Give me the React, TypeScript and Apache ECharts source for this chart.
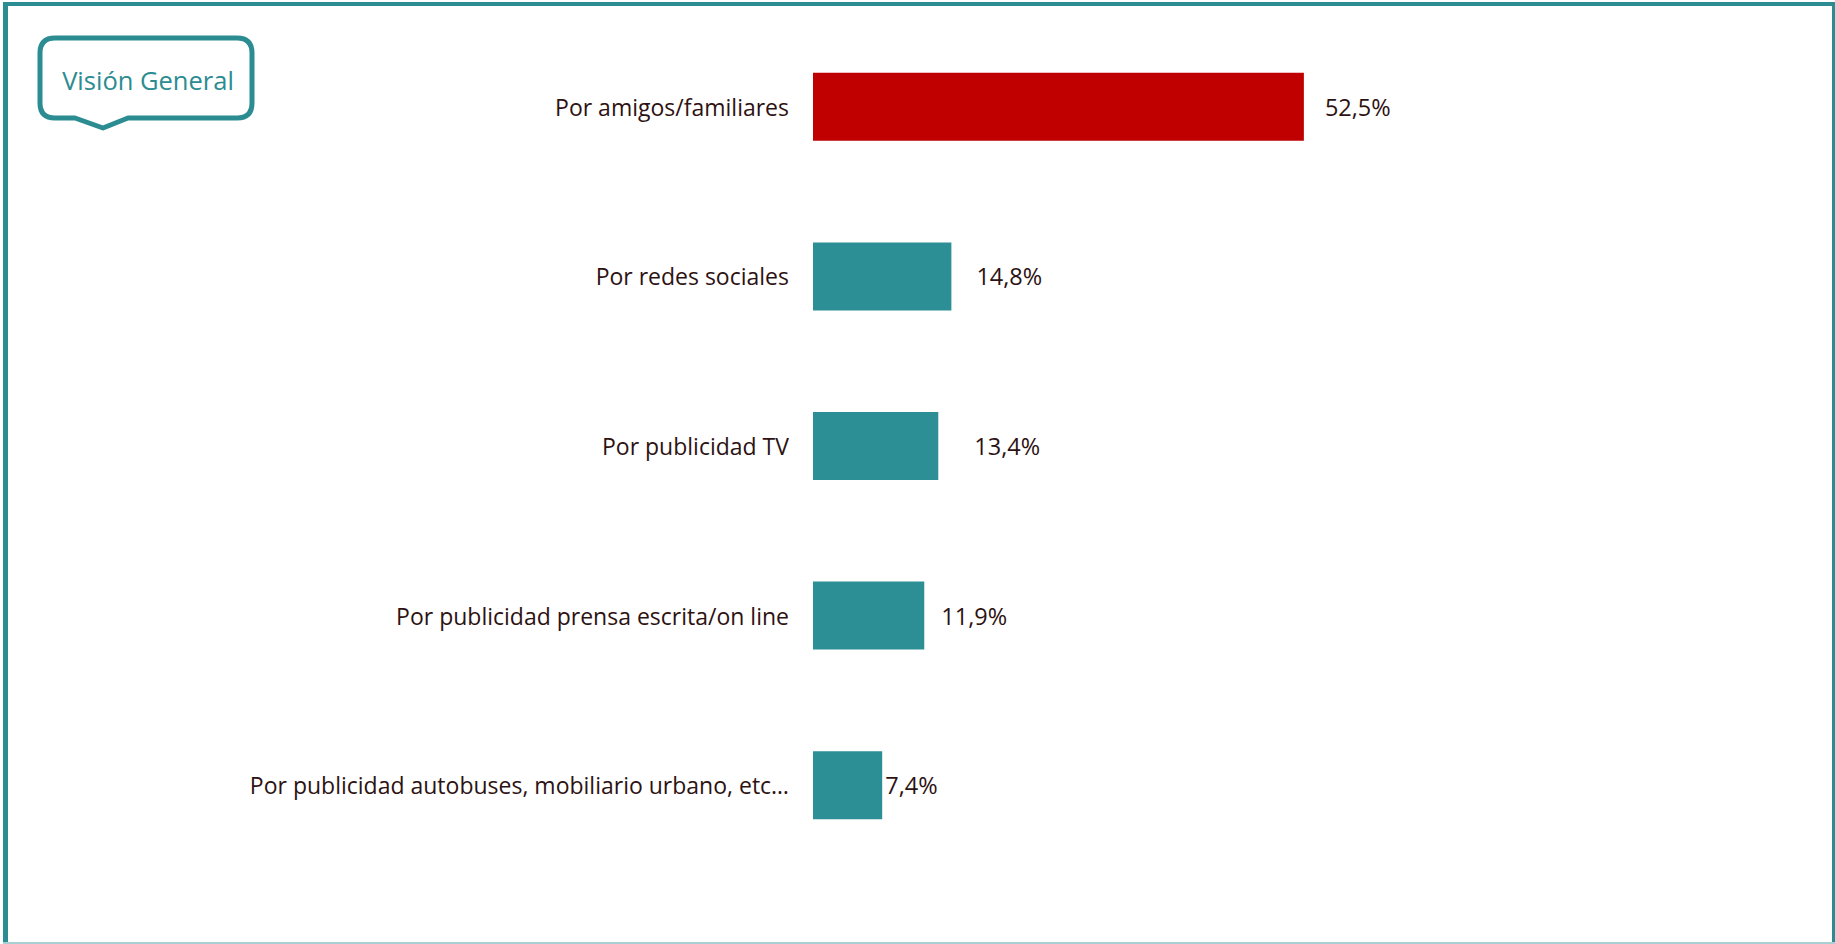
import React, { useEffect, useRef } from "react";
import * as echarts from "echarts";

const categories = [
  "Por amigos/familiares",
  "Por redes sociales",
  "Por publicidad TV",
  "Por publicidad prensa escrita/on line",
  "Por publicidad autobuses, mobiliario urbano, etc…",
];
const values = [52.5, 14.8, 13.4, 11.9, 7.4];
const barColors = ["#c00000", "#2b8f95", "#2b8f95", "#2b8f95", "#2b8f95"];
const labelGaps = [21, 25, 36, 17, 3];
const badgeText = "Visión General";

const TEAL = "#2b8c91";
const TEXT = "#2d1212";
const FONT = "'Open Sans', 'Noto Sans', sans-serif";

echarts.graphic.registerShape(
  "callout",
  echarts.graphic.extendPath(
    "M 55 38 L 237 38 Q 252 38 252 53 L 252 103 Q 252 118 237 118 L 128 118 L 103 128 L 75 118 L 55 118 Q 40 118 40 103 L 40 53 Q 40 38 55 38 Z",
    {}
  )
);

export default function App() {
  const ref = useRef<HTMLDivElement>(null);
  useEffect(() => {
    document.body.style.margin = "0";
    const chart = echarts.init(ref.current!, undefined, { renderer: "svg" });
    chart.setOption({
      animation: false,
      backgroundColor: "#ffffff",
      grid: { left: 813, right: 461, top: 22, bottom: 74, containLabel: false },
      xAxis: {
        type: "value",
        min: 0,
        max: 60,
        show: false,
      },
      yAxis: {
        type: "category",
        inverse: true,
        data: categories,
        axisLine: { show: false },
        axisTick: { show: false },
        axisLabel: {
          margin: 24,
          fontSize: 23,
          fontFamily: FONT,
          color: TEXT,
        },
      },
      series: [
        {
          type: "bar",
          barWidth: 68,
          data: values.map((v, i) => ({
            value: v,
            itemStyle: { color: barColors[i] },
            label: { distance: labelGaps[i] },
          })),
          label: {
            show: true,
            position: "right",
            fontSize: 23.5,
            fontFamily: FONT,
            color: TEXT,
            formatter: (p: any) => p.value.toFixed(1).replace(".", ",") + "%",
          },
        },
      ],
      graphic: [
        { type: "rect", shape: { x: 3, y: 2, width: 5, height: 942 }, style: { fill: TEAL } },
        { type: "rect", shape: { x: 3, y: 2, width: 1832, height: 4 }, style: { fill: TEAL } },
        { type: "rect", shape: { x: 1832, y: 2, width: 3, height: 942 }, style: { fill: TEAL } },
        { type: "rect", shape: { x: 3, y: 942, width: 1832, height: 2 }, style: { fill: "#a8cfd2" } },
        {
          type: "callout",
          x: 0,
          y: 0,
          style: { fill: "#ffffff", stroke: TEAL, lineWidth: 5, lineJoin: "round" },
        },
        {
          type: "text",
          x: 148,
          y: 80,
          style: {
            text: badgeText,
            fill: TEAL,
            fontSize: 25.5,
            fontFamily: FONT,
            align: "center",
            verticalAlign: "middle",
          },
        },
      ],
    });
    return () => chart.dispose();
  }, []);
  return (
    <div
      ref={ref}
      style={{ position: "fixed", left: 0, top: 0, width: 1835, height: 944 }}
    />
  );
}
